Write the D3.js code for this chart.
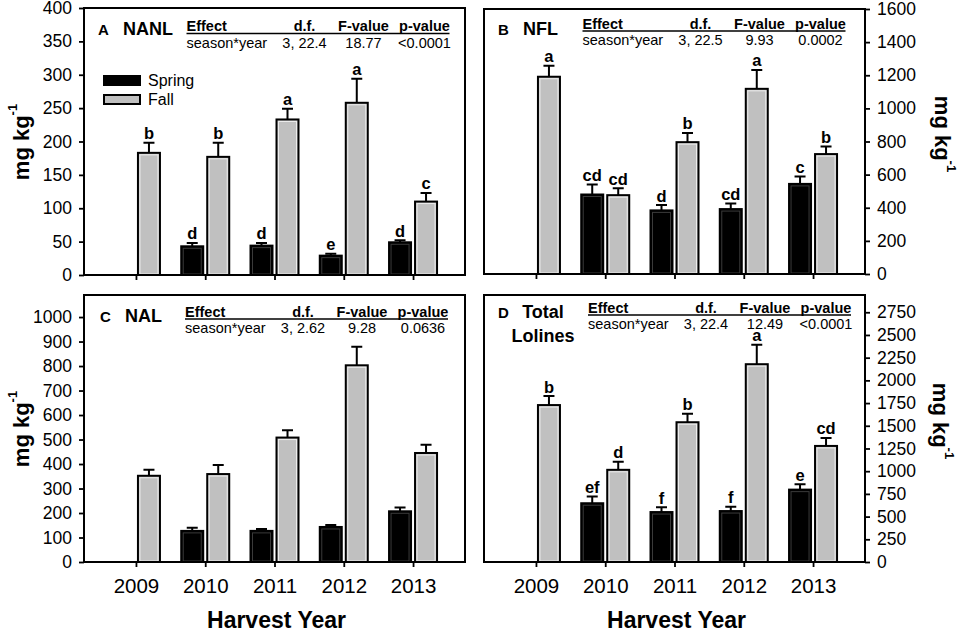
<!DOCTYPE html>
<html>
<head>
<meta charset="utf-8">
<script src="https://cdn.jsdelivr.net/npm/d3@7"></script>
<style>
  body { margin: 0; background: #fff; }
  text { font-family: "Liberation Sans", Arial, sans-serif; fill: #000; }
</style>
</head>
<body>
<svg width="964" height="635"></svg>
<script>
// ---- data ----
const years = ["2009", "2010", "2011", "2012", "2013"];

const nanlSpring = [null, 43, 44, 29, 49];
const nanlSpringErr = [null, 5, 4, 3, 3];
const nanlFall = [183, 177, 233, 258, 110];
const nanlFallErr = [15, 21, 16, 36, 13];
const nanlSpringLetters = [null, "d", "d", "e", "d"];
const nanlFallLetters = ["b", "b", "a", "a", "c"];

const nflSpring = [null, 480, 384, 392, 544];
const nflSpringErr = [null, 60, 32, 34, 44];
const nflFall = [1191, 476, 796, 1118, 724];
const nflFallErr = [67, 42, 56, 114, 46];
const nflSpringLetters = [null, "cd", "d", "cd", "c"];
const nflFallLetters = ["a", "cd", "b", "a", "b"];

const nalSpring = [null, 127, 127, 143, 207];
const nalSpringErr = [null, 13, 8, 8, 15];
const nalFall = [352, 359, 508, 803, 445];
const nalFallErr = [25, 37, 30, 76, 34];

const totSpring = [null, 647, 550, 561, 797];
const totSpringErr = [null, 73, 52, 48, 60];
const totFall = [1728, 1015, 1539, 2178, 1278];
const totFallErr = [99, 89, 93, 214, 88];
const totSpringLetters = [null, "ef", "f", "f", "e"];
const totFallLetters = ["b", "d", "b", "a", "cd"];

const statHeaders = ["Effect", "d.f.", "F-value", "p-value"];
const statEffect = "season*year";
const statDf = ["3, 22.4", "3, 22.5", "3, 2.62", "3, 22.4"];
const statF = ["18.77", "9.93", "9.28", "12.49"];
const statP = ["<0.0001", "0.0002", "0.0636", "<0.0001"];

const legendLabels = ["Spring", "Fall"];
const fallColor = "#c0c0c0";

const svg = d3.select("svg");

const panels = [
  { id: "A", name: ["NANL"], spring: nanlSpring, springErr: nanlSpringErr, fall: nanlFall, fallErr: nanlFallErr,
    sL: nanlSpringLetters, fL: nanlFallLetters, max: 400, tickMax: 400, step: 50,
    x0: 84, x1: 465, y0: 8, y1: 275, side: "left", years: false,
    tx: 186.5, hy: 31, ry: 48, lab: [98, 123, 35], ylab: [21, 142], legend: true },
  { id: "B", name: ["NFL"], spring: nflSpring, springErr: nflSpringErr, fall: nflFall, fallErr: nflFallErr,
    sL: nflSpringLetters, fL: nflFallLetters, max: 1600, tickMax: 1600, step: 200,
    x0: 484, x1: 865, y0: 9, y1: 274, side: "right", years: false,
    tx: 582.5, hy: 28.5, ry: 45, lab: [498, 523, 35], ylab: [943, 134] },
  { id: "C", name: ["NAL"], spring: nalSpring, springErr: nalSpringErr, fall: nalFall, fallErr: nalFallErr,
    sL: null, fL: null, max: 1090, tickMax: 1000, step: 100,
    x0: 84, x1: 465, y0: 295, y1: 562, side: "left", years: true,
    tx: 185, hy: 316.5, ry: 333, lab: [100, 125, 322], ylab: [21, 429] },
  { id: "D", name: ["Total", "Lolines"], spring: totSpring, springErr: totSpringErr, fall: totFall, fallErr: totFallErr,
    sL: totSpringLetters, fL: totFallLetters, max: 2940, tickMax: 2750, step: 250,
    x0: 484, x1: 865, y0: 295, y1: 562, side: "right", years: true,
    tx: 588, hy: 312.5, ry: 328.5, lab: [498, 523, 318], ylab: [941, 421] }
];

const barW = 22, barGap = 2, capW = 11;

panels.forEach((p, pi) => {
  const g = svg.append("g");
  const x = d3.scalePoint().domain(years).range([p.x0, p.x1]).padding(0.75);
  const y = d3.scaleLinear().domain([0, p.max]).range([p.y1, p.y0]);
  const ticks = d3.range(0, p.tickMax + 1, p.step);

  // axes
  const yAxis = (p.side === "left" ? d3.axisLeft(y) : d3.axisRight(y))
    .tickValues(ticks).tickSize(5).tickPadding(7).tickFormat(d3.format("d"));
  const ya = g.append("g")
    .attr("transform", `translate(${p.side === "left" ? p.x0 : p.x1},0)`)
    .call(yAxis);
  ya.select(".domain").remove();
  ya.selectAll("line").attr("stroke", "#000").attr("stroke-width", 1.8);
  ya.selectAll("text").attr("font-size", 17.5).attr("font-family", "Liberation Sans, Arial, sans-serif");

  const xa = g.append("g")
    .attr("transform", `translate(0,${p.y1})`)
    .call(d3.axisBottom(x).tickSize(5).tickPadding(11).tickFormat(p.years ? (d => d) : () => ""));
  xa.select(".domain").remove();
  xa.selectAll("line").attr("stroke", "#000").attr("stroke-width", 1.8);
  xa.selectAll("text").attr("font-size", 20.5).attr("font-family", "Liberation Sans, Arial, sans-serif");

  // bars
  const rows = years.map((yr, i) => ({ yr, i }));
  const drawBars = (vals, errs, letters, offset, fill, inner) => {
    const data = rows.filter(r => vals[r.i] != null);
    const bx = r => x(r.yr) + offset;
    // error bars (upper only)
    g.selectAll(null).data(data).enter().append("path")
      .attr("d", r => {
        const cx = bx(r) + barW / 2, top = y(vals[r.i] + errs[r.i]);
        return `M${cx},${y(vals[r.i])}V${top}M${cx - capW / 2},${top}H${cx + capW / 2}`;
      })
      .attr("stroke", "#000").attr("stroke-width", 2).attr("fill", "none");
    g.selectAll(null).data(data).enter().append("rect")
      .attr("x", bx).attr("width", barW)
      .attr("y", r => y(vals[r.i])).attr("height", r => p.y1 - y(vals[r.i]))
      .attr("fill", fill).attr("stroke", "#000").attr("stroke-width", 2);
    g.selectAll(null).data(data).enter().append("rect")
      .attr("x", r => bx(r) + 2).attr("width", barW - 4)
      .attr("y", r => y(vals[r.i]) + 2).attr("height", r => Math.max(0, p.y1 - y(vals[r.i]) - 3))
      .attr("fill", "none").attr("stroke", inner).attr("stroke-width", 1);
    if (letters) {
      g.selectAll(null).data(data).enter().append("text")
        .attr("x", r => bx(r) + barW / 2)
        .attr("y", r => y(vals[r.i] + errs[r.i]) - 3.5)
        .attr("text-anchor", "middle").attr("font-size", 16.5).attr("font-weight", "bold")
        .text(r => letters[r.i]);
    }
  };
  drawBars(p.spring, p.springErr, p.sL, -barGap - barW, "#000", "#3a3a3a");
  drawBars(p.fall, p.fallErr, p.fL, barGap, fallColor, "#ececec");

  // frame
  g.append("rect")
    .attr("x", p.x0).attr("y", p.y0).attr("width", p.x1 - p.x0).attr("height", p.y1 - p.y0)
    .attr("fill", "none").attr("stroke", "#000").attr("stroke-width", 2);

  // panel label
  g.append("text").attr("x", p.lab[0]).attr("y", p.lab[2])
    .attr("font-size", 15).attr("font-weight", "bold").text(p.id);
  if (p.name.length === 1) {
    g.append("text").attr("x", p.lab[1]).attr("y", p.lab[2])
      .attr("font-size", 18).attr("font-weight", "bold").text(p.name[0]);
  } else {
    g.append("text").attr("x", 543).attr("y", p.lab[2]).attr("text-anchor", "middle")
      .attr("font-size", 18).attr("font-weight", "bold").text(p.name[0]);
    g.append("text").attr("x", 543).attr("y", p.lab[2] + 24).attr("text-anchor", "middle")
      .attr("font-size", 18).attr("font-weight", "bold").text(p.name[1]);
  }

  // statistics table
  const colX = [p.tx, p.tx + 118, p.tx + 177, p.tx + 238];
  const rowVals = [statEffect, statDf[pi], statF[pi], statP[pi]];
  statHeaders.forEach((h, c) => {
    g.append("text").attr("x", colX[c]).attr("y", p.hy)
      .attr("text-anchor", c === 0 ? "start" : "middle")
      .attr("font-size", 14.5).attr("font-weight", "bold").text(h);
    g.append("text").attr("x", colX[c]).attr("y", p.ry)
      .attr("text-anchor", c === 0 ? "start" : "middle")
      .attr("font-size", 14.5).text(rowVals[c]);
  });
  g.append("line").attr("x1", p.tx).attr("x2", p.tx + 263)
    .attr("y1", p.hy + 2.5).attr("y2", p.hy + 2.5)
    .attr("stroke", "#000").attr("stroke-width", 1.5);

  // y axis title
  const rot = p.side === "left" ? -90 : 90;
  const yt = g.append("text")
    .attr("transform", `translate(${p.ylab[0]},${p.ylab[1]}) rotate(${rot})`)
    .attr("text-anchor", "middle").attr("dominant-baseline", "central")
    .attr("font-size", 22).attr("font-weight", "bold");
  yt.append("tspan").text("mg kg");
  yt.append("tspan").attr("dy", -9).attr("font-size", 13).text("-1");

  if (p.years) {
    g.append("text").attr("x", (p.x0 + p.x1) / 2 + 2).attr("y", 628)
      .attr("text-anchor", "middle").attr("font-size", 23).attr("font-weight", "bold")
      .text("Harvest Year");
  }

  if (p.legend) {
    const lg = g.append("g");
    legendLabels.forEach((l, k) => {
      const yy = 76 + k * 19;
      lg.append("rect").attr("x", 104).attr("y", yy).attr("width", 36).attr("height", 9)
        .attr("fill", k === 0 ? "#000" : fallColor).attr("stroke", "#000").attr("stroke-width", 2);
      lg.append("text").attr("x", 148).attr("y", yy + 4.5).attr("dy", "0.35em")
        .attr("font-size", 16).text(l);
    });
  }
});
</script>
</body>
</html>
